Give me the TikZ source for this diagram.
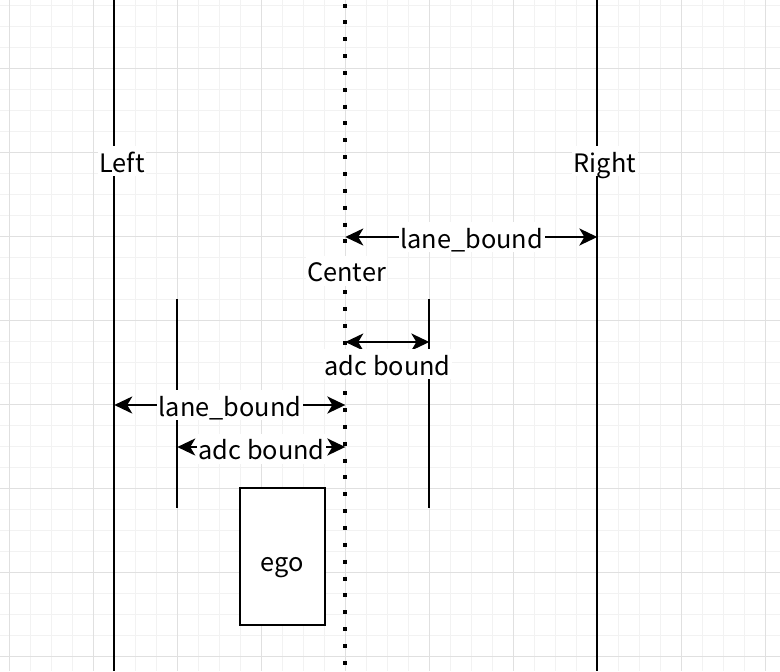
\documentclass[tikz,border=0pt]{standalone}
\usepackage{fontspec}
\setmainfont{Noto Sans CJK SC}
\usetikzlibrary{arrows.meta}
\tikzset{
  minorgrid/.style={line width=0.75pt,draw=black!5},
  majorgrid/.style={line width=0.75pt,draw=black!12},
  lane/.style={line width=1.5pt,draw=black},
  centerline/.style={line width=3pt,draw=black,dash pattern=on 3pt off 9.64pt},
  dimarrow/.style={line width=1.5pt,draw=black,
    {Stealth[length=13.5pt,width=12.8pt,inset=3.8pt]}-{Stealth[length=13.5pt,width=12.8pt,inset=3.8pt]}},
  lbl/.style={fill=white,inner xsep=1.2pt,inner ysep=1.2pt,text height=18pt,text depth=2pt,
    anchor=base,font=\fontsize{19}{23}\selectfont},
  egobox/.style={draw=black,line width=1.5pt,fill=white,minimum width=63.75pt,minimum height=102.5pt,inner sep=0pt}
}
\begin{document}
\begin{tikzpicture}[x=0.75pt,y=-0.75pt]
\useasboundingbox (0,0) rectangle (780,671);
\fill[white] (0,0) rectangle (780,671);
% grid
\foreach \i in {0,...,37} \draw[minorgrid] ({9.3+21*\i},0) -- ({9.3+21*\i},671);
\foreach \j in {0,...,31} \draw[minorgrid] (0,{5.3+21*\j}) -- (780,{5.3+21*\j});
\foreach \i in {0,...,9} \draw[majorgrid] ({9.3+84*\i},0) -- ({9.3+84*\i},671);
\foreach \j in {0,...,7} \draw[majorgrid] (0,{68.3+84*\j}) -- (780,{68.3+84*\j});
% lane lines
\coordinate (Ltop) at (114.3,0);
\coordinate (Lbot) at (114.3,671);
\coordinate (Rtop) at (597.3,0);
\coordinate (Rbot) at (597.3,671);
\coordinate (Ctop) at (345.3,3.5);
\coordinate (Cbot) at (345.3,671);
\draw[lane] (Ltop) -- (Lbot);
\draw[lane] (Rtop) -- (Rbot);
\draw[centerline] (Ctop) -- (Cbot);
% adc bound lines
\coordinate (ALtop) at (177.3,299.3);
\coordinate (ALbot) at (177.3,508.3);
\coordinate (ARtop) at (429.3,299.3);
\coordinate (ARbot) at (429.3,508.3);
\draw[lane] (ALtop) -- (ALbot);
\draw[lane] (ARtop) -- (ARbot);
% labels of lines
\node[lbl] (leftlab) at (122,172) {Left};
\node[lbl] (rightlab) at (605,172) {Right};
\node[lbl] (centerlab) at (346.5,281.5) {Center};
% dimension arrows
\coordinate (d1a) at (345.3,237);
\coordinate (d1b) at (597.3,237);
\draw[dimarrow] (d1a) -- (d1b);
\node[lbl] (d1lab) at (471.7,248) {lane\_bound};
\coordinate (d2a) at (345.3,342);
\coordinate (d2b) at (429.3,342);
\draw[dimarrow] (d2a) -- (d2b);
\node[lbl] (d2lab) at (387.5,375) {adc bound};
\coordinate (d3a) at (114.3,405);
\coordinate (d3b) at (345.3,405);
\draw[dimarrow] (d3a) -- (d3b);
\node[lbl] (d3lab) at (230,416) {lane\_bound};
\coordinate (d4a) at (177.3,447);
\coordinate (d4b) at (345.3,447);
\draw[dimarrow] (d4a) -- (d4b);
\node[lbl] (d4lab) at (261.5,459.5) {adc bound};
% ego
\node[egobox] (ego) at (282.5,556.7) {};
\node[anchor=base,font=\fontsize{19}{23}\selectfont,inner sep=0pt] (egolab) at (282.5,571) {ego};
\end{tikzpicture}
\end{document}
